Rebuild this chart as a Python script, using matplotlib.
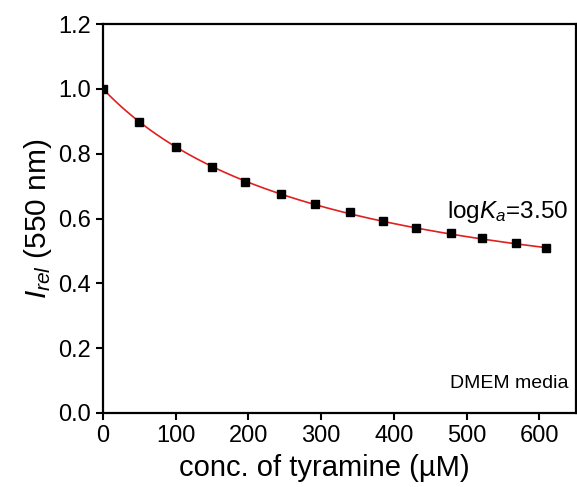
import numpy as np
import matplotlib
matplotlib.use("Agg")
import matplotlib.pyplot as plt

# Data
conc_uM = [0, 50, 100, 150, 196, 245, 292, 340, 385, 431, 478, 522, 568, 610]
i_rel = [1.000, 0.899, 0.820, 0.760, 0.713, 0.676, 0.644, 0.620, 0.592,
         0.572, 0.555, 0.539, 0.524, 0.510]

# 1:1 binding isotherm fit parameters
log_ka = 3.50          # M^-1
i_inf = 0.256          # limiting relative intensity

x_ticks = [0, 100, 200, 300, 400, 500, 600]
y_ticks = [0.0, 0.2, 0.4, 0.6, 0.8, 1.0, 1.2]

plt.rcParams['font.family'] = ['Liberation Sans', 'DejaVu Sans']
plt.rcParams['mathtext.fontset'] = 'custom'
plt.rcParams['mathtext.rm'] = 'Liberation Sans'
plt.rcParams['mathtext.it'] = 'Liberation Sans:italic'

fig = plt.figure(figsize=(5.77, 4.87), dpi=100)
ax = fig.add_axes([0.1785, 0.152, 0.819, 0.7985])

ka_uM = 10 ** log_ka * 1e-6
xf = np.linspace(0, max(conc_uM), 300)
yf = 1 + (i_inf - 1) * ka_uM * xf / (1 + ka_uM * xf)
ax.plot(xf, yf, color='#e0201e', lw=1.2, zorder=2)
ax.plot(conc_uM, i_rel, ls='none', marker='s', ms=6.3, color='black', zorder=3)

ax.set_xlim(0, 650)
ax.set_ylim(0, 1.2)
ax.set_xticks(x_ticks)
ax.set_yticks(y_ticks)
ax.set_yticklabels([f"{v:.1f}" for v in y_ticks])

for s in ax.spines.values():
    s.set_linewidth(1.6)
ax.tick_params(direction='out', length=5, width=1.5, labelsize=17,
               top=False, right=False, pad=3.5)

ax.set_xlabel('conc. of tyramine (µM)', fontsize=21)
ax.xaxis.set_label_coords(0.468, -0.105)
ax.set_ylabel(r'$\mathit{I}_{\mathit{rel}}$ (550 nm)', fontsize=21.5, labelpad=3)

ax.text(640, 0.620, r'log$\mathit{K}_{\mathit{a}}$=3.50', fontsize=17.5,
        ha='right', va='center')
ax.text(640, 0.090, 'DMEM media', fontsize=14, ha='right', va='center')

fig.savefig('out.png', dpi=100)
